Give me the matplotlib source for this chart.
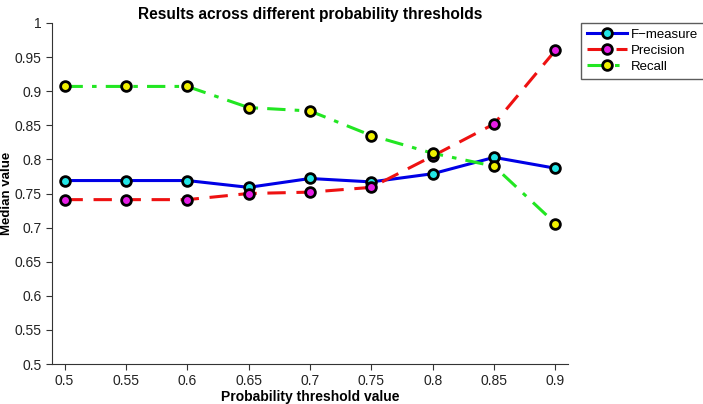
import numpy as np
import matplotlib.pyplot as plt

plt.rcParams['font.family'] = ['Liberation Sans', 'DejaVu Sans']

# data
thresholds = [0.5, 0.55, 0.6, 0.65, 0.7, 0.75, 0.8, 0.85, 0.9]
f_measure = [0.769, 0.769, 0.769, 0.759, 0.772, 0.767, 0.779, 0.803, 0.787]
precision = [0.741, 0.741, 0.741, 0.750, 0.752, 0.759, 0.805, 0.852, 0.960]
recall = [0.907, 0.907, 0.907, 0.876, 0.871, 0.835, 0.809, 0.790, 0.706]
y_ticks = [0.5, 0.55, 0.6, 0.65, 0.7, 0.75, 0.8, 0.85, 0.9, 0.95, 1]

fig = plt.figure(figsize=(7.03, 4.04), dpi=100)
ax = fig.add_axes([52/703, 1 - 364/404, (568 - 52)/703, (364 - 23)/404])

mk = dict(marker='o', markersize=7, markeredgecolor='black', markeredgewidth=2)
ax.plot(thresholds, f_measure, '-', color='#0000e6', lw=2.2, markerfacecolor='#22e6e6', label='F\u2212measure', **mk)
ax.plot(thresholds, precision, '--', color='#ee1111', lw=2.2, dashes=(6, 3.5), markerfacecolor='#e61ee6', label='Precision', **mk)
ax.plot(thresholds, recall, '-.', color='#22e622', lw=2.2, dashes=(6, 3, 1.5, 3), markerfacecolor='#f0f000', label='Recall', **mk)

ax.set_xlim(0.4898, 0.9102)
ax.set_ylim(0.5, 1.0)
ax.set_xticks(thresholds)
ax.set_xticklabels([f'{t:g}' for t in thresholds])
ax.set_yticks(y_ticks)
ax.set_yticklabels([f'{t:g}' for t in y_ticks])
ax.spines['top'].set_visible(False)
ax.spines['right'].set_visible(False)
for s in ['left', 'bottom']:
    ax.spines[s].set_color('#333333')
ax.tick_params(direction='out', length=4, labelsize=10, colors='#333333', labelcolor='#222222')

ax.set_title('Results across different probability thresholds', fontsize=11.2, fontweight='bold', pad=3)
ax.set_xlabel('Probability threshold value', fontsize=10, fontweight='bold', labelpad=1)
ax.set_ylabel('Median value', fontsize=9.5, fontweight='bold', labelpad=1)

fig.legend(loc='upper left', bbox_to_anchor=(581/703, 1 - 22.5/404), fontsize=9.5,
           frameon=True, fancybox=False, edgecolor='#333333', handlelength=3.0,
           borderpad=0.45, labelspacing=0.3, handletextpad=0.3, borderaxespad=0)

fig.savefig('out.png', dpi=100)
